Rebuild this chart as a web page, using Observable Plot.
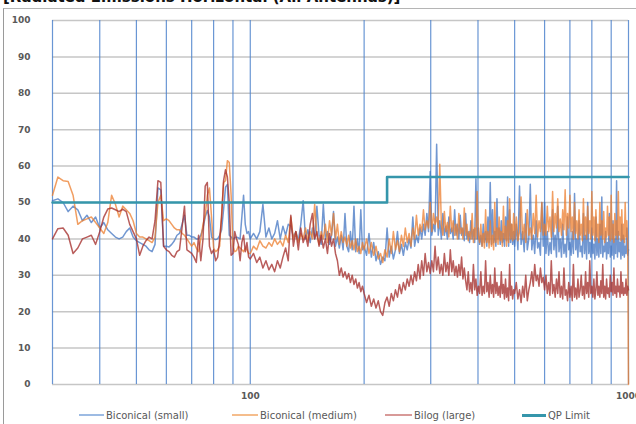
<!DOCTYPE html>
<html>
<head>
<meta charset="utf-8">
<script src="https://cdn.jsdelivr.net/npm/d3@7"></script>
<script src="https://cdn.jsdelivr.net/npm/@observablehq/plot@0.6"></script>
<style>
  html, body { margin: 0; padding: 0; background: #fff; overflow: hidden; }
  #wrap { position: relative; width: 636px; height: 424px; overflow: hidden; font-family: "DejaVu Sans", sans-serif; }
  #title { position: absolute; left: 3px; top: -10px; font: bold 15px/15px "DejaVu Sans", sans-serif; color: #111; white-space: nowrap; }
  #frame { position: absolute; left: 3px; top: 8px; width: 700px; height: 500px; border-left: 1px solid #9a9a9a; border-top: 1px solid #b5b5b5; }
  #chart { position: absolute; left: 0; top: 0; }
  .leg { position: absolute; top: 409px; height: 14px; font-size: 10px; line-height: 14px; color: #595959; white-space: nowrap; }
  .sw { display: inline-block; vertical-align: middle; margin-right: 2px; position: relative; top: -1px; }
</style>
</head>
<body>
<div id="wrap">
  <div id="frame"></div>
  <div id="title">[Radiated Emissions Horizontal (All Antennas)]</div>
  <div id="chart"></div>
</div>
<script>
// ---- frequency sweep (MHz) ----
const freqA = [30,31,32,33,34,35,36,37,38,39,40,41,42,43,44,45,46,47,48,49,50,51,52,53,54,55,56,57,58,59,60,61,62,63,64,65,66,67,68,69,70,71,72,73,74,75,76,77,78,79,80,81,82,83,84,85,86,87,88,89,90,91,92,93,94,95,96,97,98,99];
const freqB = [100,102,104,106,108,110,112,114,116,118,120,122,124,126,128,130,132,134,136,138,140,142,144,146,148,150,152,154,156,158,160,162,164,166,168,170,172,174,176,178,180,182,184,186,188,190,192,194,196,198];
const freqC = [200,203,206,209,212,215,218,221,224,227,230,233,236,239,242,245,248,251,254,257,260,263,266,269,272,275,278,281,284,287,290,293,296,299,302,305,308,311,314,317,320,323,326,329,332,335,338,341,344,347,350,353,356,359,362,365,368,371,374,377,380,383,386,389,392,395,398,401,404,407,410,413,416,419,422,425,428,431,434,437,440,443,446,449,452,455,458,461,464,467,470,473,476,479,482,485,488,491,494,497];
const freqD = [500,505,510,515,520,525,530,535,540,545,550,555,560,565,570,575,580,585,590,595,600,605,610,615,620,625,630,635,640,645,650,655,660,665,670,675,680,685,690,695,700,705,710,715,720,725,730,735,740,745,750,755,760,765,770,775,780,785,790,795,800,805,810,815,820,825,830,835,840,845,850,855,860,865,870,875,880,885,890,895,900,905,910,915,920,925,930,935,940,945,950,955,960,965,970,975,980,985,990,995,1000];

// ---- Biconical (small) ----
const smallA = [50.5,51,50,47.5,49,48,45,46.5,44.5,46, 43,44.5,42.5,41.5,40.5,40,40.5,42,43,40.5, 39.5,39,38.5,38,37,36.5,38.5,54,53.5,38, 38,37.8,38.5,39.5,41,41.5,44,46.5,41,41, 40.5,40.5,40,40,41,43,46,47.8,46,40.5, 40,39.8,40,41,42.5,48,54.2,55,41,40.5, 40,40.3,40.5,40.3,40,46,52,44,41.5,42];
const smallB = [40,41.5,40,42,49.5,40.5,43,40,41.5,45, 40,43.5,41,44,43.5,40.5,42,39.5,44,50.5, 40,42.5,39,43,40,49,41,38.5,49.5,40, 42,38.5,41,47.5,38,40.5,37.5,41,37,47, 38,36.5,42,37,49,36.5,40,36,48,37];
const smallC = [38,35.5,41.5,35,39,34,36.5,33,35,34,
 43,35,38,34.5,37,42,36,38.5,35.5,39,37,40,37.5,
 46,38,41,39,43,40,44,41,47,42,58.5,
 41,44,42,66,41,45,40,47,41,43.5,40,46,41.5,43,40,48,41,
 44,40,46.5,41,43,39.5,47,40,42,39,45,40,42.5,39,56.5,40,43,
 38.5,41,38,44,39,42,38,46,39,55.5,38.5,48,39,42,38,51,
 40,43,38.5,45,39,41.5,38,46,39.5,51.5,38,48,39,44,38.5,42];
const smallD = [38,44,37,54.5,38.5,42,36.5,47,37,40,
 55,37,41,36,45,37.5,39,35.5,50,38,
 50,36,42,35.5,39,36,48,37,41,35,
 49,36.5,40,35,44,36,38.5,35,46,37,
 39,35.5,42,36,52.5,37,40,35,45,36.5,
 38,35,47,36,41,34.5,50,36,39,35,
 43,36,38.5,34.5,46,35.5,40,35,44,36,
 51.5,35,38,36.5,42,34.5,39,36,47,35,
 38,35.5,45,34.5,40,36,56,35,42,36.5,
 39,34.5,44,35.5,41,35,38,36,43,35.5,
 37];

// ---- Biconical (medium) ----
const mediumA = [52,57,56,55.8,52,44,45,45.5,46,44.5, 43,41.5,44.5,52,49.5,46,49,48,47,45, 41.5,40.5,40.5,40,39.5,39,40.5,50,52,45, 45.5,45,44,43,42.5,42.5,41.5,41,40,39, 38,39,37.5,36.5,40,44,46.5,52,54,46, 37.5,36.5,37,38,47,55.5,56,61.5,61,52, 38,36.5,36.8,38,37.5,37,36.5,37.5,37,36];
const mediumB = [36,38,37,39.5,38,37.5,39,38,40,38.5, 39.5,38,41,39,46,40,42,39,41.5,40, 43,39.5,42,40,49.5,41,38.5,42,40,44, 39,45,41,47,40,44,38.5,42,39,40.5, 38,41,37.5,39.5,37,40,36.5,38,36,39];
const mediumC = [37,40,36,39,35.5,38,34.5,36,33.5,37,
 35,40,36,42,37,39.5,36.5,41,38,43,39,41.5,38,
 43,40,46.5,41,44,42,48,42.5,45,43,50,
 42,47,44,46,43,60.5,44,41,47.5,42,44.5,40.5,49,42,45,41,44,
 40,47,41.5,43,40,48.5,41,44,39.5,42,40,47,39,43,40,53,41,
 39,44,38,41.5,37.5,48,39,42,37.5,45,38,41,37,50,39,43,
 38.5,46,39.5,42,38,49,40,43.5,38,45,39,51,40,44,39.5,47];
const mediumD = [40,46,39.5,42,51.5,40,44,39,48,41,
 43,40,47,41.5,52,40.5,45,42,50,41,
 44,41,49,42,46,40.5,53,42,47,43,
 51,42,45.5,41,48,42.5,53.5,41,47,43,
 52,42,46,40,50,41.5,45,40,48,41,
 44,39.5,51,41,46,40,49,41.5,45,40,
 53,41,46,39.5,48,40.5,44,39,50,41,
 45,40,47.5,39,43,40.5,49,41,46,39.5,
 52,40,44,39,47,41,45,40,53,41,
 46,39.5,48,40,44,39,50,40.5,45,39,
 0];

// ---- Bilog (large) ----
const largeA = [40,42.8,43,41,36,37.5,40,40.5,41,38.5, 42,46,48.2,48.5,48,47.5,48.2,47.5,44,42, 40,35.5,38,39.5,40.5,40,45,56,55.5,38, 37,36.5,35.5,35,36.5,37,43,49,37,36.5, 36,35,33.5,41,34,40,54.5,55.5,38,36, 37,34,35,40,46,56,59,57,50,35.5, 36,42,40,38.5,34,39,41,36.5,39,35];
const largeB = [34.5,36,33.5,35,32,34,31.5,33,31,34, 32,35,37.5,34,46.5,38,42,37,43,39, 41,38,44,47,40,42,38,41,37.5,40, 36,41.5,38,40,36,34,30,32,29.5,31, 29,30.5,28,30,27.5,29,26.5,28,25.5,27];
const largeC = [25,22.5,24.5,21.5,23.5,21,23,20,19,22.5,
 24,21.5,25,23,26,24,27.5,25,28,26,29,27,30,
 27.5,31,28.5,33,29,34,30,36,31,33.5,30.5,
 34,31,38,31.5,35,30.5,33,30,36,31,33.5,30,37,31,34,30,32.5,
 29.5,33,30,35,29,32,28.5,26,31,25.5,28,25,33,26,29,24.5,27,
 25,31,24.5,27,25,34,25.5,28,24,30,25,27.5,24,32,25,28,
 24.5,27,24,31,25,27.5,23.5,29,24,26.5,23,33,24.5,27,23.5,26];
const largeD = [25,28,23.5,26,22.5,27,24,30,23,26,
 28,31,27,33,28.5,30,27,32,28,29.5,
 26,30,25,28,24.5,34,25,27.5,24,29,
 25,31,24,27,23.5,32,24.5,26,23,28,
 24,27,23,33,24,26.5,23.5,29,24,26,
 30,24.5,27,23.5,31,25,28,24,34,25,
 27,24,29,23.5,26,31,24.5,27,24,28.5,
 25,33,24,27,23.5,29,25,26.5,24,30,
 25.5,28,24.5,32,25,27,24,29,25.5,27,
 24,31,25,28,24.5,26.5,25,29,24.5,27,
 26];

// ---- QP limit ----
const qpFreq = [30, 230, 1000];
const qpLevel = [50, 57, 57];

// ---- axes / legend ----
const yTicks = [0,10,20,30,40,50,60,70,80,90,100];
const xGrid = [30,40,50,60,70,80,90,100,200,300,400,500,600,700,800,900,1000];
const xLabels = [100, 1000];
const seriesNames = ["Biconical (small)", "Biconical (medium)", "Bilog (large)", "QP Limit"];
const seriesColors = ["#4274c2", "#ec7d2e", "#a5302d", "#3596ab"];
const legendSwatch = ["#9dbbe3", "#f5bd8c", "#d89a98", "#3596ab"];
const legendLeft = [79, 232, 385, 522];
const legendSwLen = [25, 26, 27, 24];

const freq = [...freqA, ...freqB, ...freqC, ...freqD];
const sets = [
  [...smallA, ...smallB, ...smallC, ...smallD],
  [...mediumA, ...mediumB, ...mediumC, ...mediumD],
  [...largeA, ...largeB, ...largeC, ...largeD]
];
sets.forEach((s, k) => { if (s.length !== freq.length) console.error("length mismatch", k, s.length, freq.length); });
const rows = sets.map(s => freq.map((f, i) => ({f, v: s[i]})));
const qpRows = qpFreq.map((f, i) => ({f, v: qpLevel[i]}));

const chart = Plot.plot({
  width: 636,
  height: 405,
  marginLeft: 52,
  marginRight: 8,
  marginTop: 20,
  marginBottom: 21,
  style: {fontFamily: "DejaVu Sans, sans-serif", fontSize: "9px", fontWeight: "bold", color: "#595959", background: "transparent", overflow: "visible"},
  x: {type: "log", domain: [30, 1000], ticks: xLabels, tickFormat: d => String(d), tickSize: 0, tickPadding: 8, label: null},
  y: {domain: [0, 100], ticks: yTicks, tickSize: 0, tickPadding: 22, label: null},
  marks: [
    Plot.ruleY(yTicks, {stroke: "#c6c6c6", strokeWidth: 1.5}),
    Plot.ruleX(xGrid, {stroke: "#4f84cc", strokeWidth: 1.2, strokeOpacity: 0.85}),
    Plot.line(rows[0], {x: "f", y: "v", stroke: seriesColors[0], strokeWidth: 1.5, strokeOpacity: 0.75}),
    Plot.line(rows[1], {x: "f", y: "v", stroke: seriesColors[1], strokeWidth: 1.5, strokeOpacity: 0.75}),
    Plot.line(rows[2], {x: "f", y: "v", stroke: seriesColors[2], strokeWidth: 1.5, strokeOpacity: 0.78}),
    Plot.line(qpRows, {x: "f", y: "v", stroke: seriesColors[3], strokeWidth: 2.6, curve: "step-after"})
  ]
});
document.getElementById("chart").appendChild(chart);

const wrap = document.getElementById("wrap");
seriesNames.forEach((name, i) => {
  const d = document.createElement("div");
  d.className = "leg";
  d.style.left = legendLeft[i] + "px";
  const sw = document.createElement("span");
  sw.className = "sw";
  sw.style.width = legendSwLen[i] + "px";
  sw.style.borderTop = (i === 3 ? 3 : 2) + "px solid " + legendSwatch[i];
  d.appendChild(sw);
  d.appendChild(document.createTextNode(name));
  wrap.appendChild(d);
});
</script>
</body>
</html>
